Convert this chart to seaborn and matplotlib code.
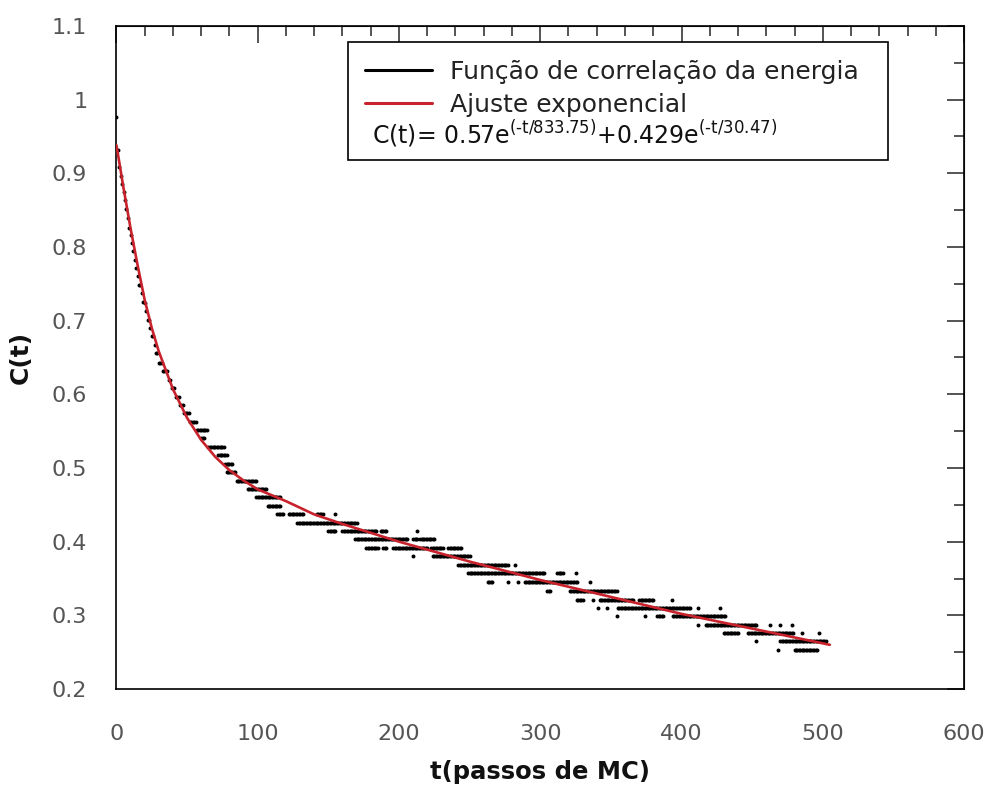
import numpy as np
import pandas as pd
import matplotlib
matplotlib.use("Agg")
import matplotlib.pyplot as plt
import seaborn as sns
from matplotlib.lines import Line2D
from matplotlib.patches import Rectangle
from matplotlib.ticker import MultipleLocator, FormatStrFormatter

# --- early decay: one point per MC step ---
early_t = [0, 1, 2, 3, 4, 5, 6, 7, 8, 9, 10, 11, 12, 13, 14,
           15, 16, 17, 18, 19, 20, 21, 22, 23, 24, 25, 26, 27, 28, 29]
early_c = [0.977, 0.932, 0.909, 0.897, 0.886, 0.875, 0.864, 0.852, 0.839, 0.826,
           0.816, 0.805, 0.794, 0.782, 0.771, 0.760, 0.749, 0.749, 0.737, 0.726,
           0.724, 0.713, 0.701, 0.701, 0.690, 0.679, 0.679, 0.667, 0.656, 0.656]

# --- later part: quantized levels, read as runs (first step, last step, value) ---
run_t0 = [30, 33, 37, 39, 42, 45, 48, 52, 57, 60, 65, 72, 77, 78, 85, 93, 99, 107,
          114, 122, 142, 155, 128, 150, 160, 187, 213, 169, 210, 215,
          177, 189, 196, 223, 235, 210, 224, 242, 282, 249, 312, 325,
          263, 277, 284, 289, 335, 305, 321, 326, 337, 342, 370, 393,
          341, 347, 355, 412, 427, 354, 374, 383, 394,
          412, 417, 463, 470, 478, 430, 447, 485, 497, 453, 470, 468, 480]
run_t1 = [32, 36, 38, 41, 44, 47, 51, 56, 64, 62, 76, 78, 82, 84, 99, 106, 116, 116,
          118, 132, 146, 155, 170, 155, 184, 191, 213, 206, 213, 225,
          185, 191, 220, 231, 244, 210, 250, 277, 282, 303, 316, 325,
          266, 277, 284, 326, 335, 307, 354, 330, 337, 366, 380, 393,
          341, 347, 406, 412, 427, 354, 374, 387, 431,
          412, 453, 463, 470, 478, 440, 479, 485, 497, 453, 502, 468, 496]
run_c = [0.643, 0.632, 0.620, 0.609, 0.597, 0.586, 0.575, 0.563, 0.552, 0.541,
         0.529, 0.517, 0.505, 0.494, 0.482, 0.471, 0.460, 0.448,
         0.437, 0.437, 0.437, 0.437, 0.425, 0.414, 0.414, 0.414, 0.414,
         0.403, 0.403, 0.403,
         0.391, 0.391, 0.391, 0.391, 0.391, 0.380, 0.380, 0.369, 0.369,
         0.357, 0.357, 0.357,
         0.345, 0.345, 0.345, 0.345, 0.345, 0.333, 0.333,
         0.321, 0.321, 0.321, 0.321, 0.321,
         0.310, 0.310, 0.310, 0.310, 0.310, 0.299, 0.299, 0.299, 0.299,
         0.287, 0.287, 0.287, 0.287, 0.287, 0.276, 0.276, 0.276, 0.276,
         0.265, 0.265, 0.253, 0.253]

# --- fitted curve ---
fit_t = [0, 2, 5, 10, 15, 20, 25, 30, 40, 50, 60, 70, 80, 90, 100,
         120, 140, 160, 180, 200, 250, 300, 350, 400, 450, 505]
fit_c = [0.938, 0.915, 0.880, 0.825, 0.775, 0.728, 0.690, 0.658, 0.607, 0.568,
         0.538, 0.515, 0.497, 0.483, 0.471, 0.455, 0.437, 0.424, 0.412, 0.400,
         0.373, 0.348, 0.325, 0.302, 0.282, 0.260]

ts = list(early_t)
cs = list(early_c)
for a, b, c in zip(run_t0, run_t1, run_c):
    for t in range(a, b + 1):
        ts.append(t)
        cs.append(c)
points = pd.DataFrame({"t": ts, "C": cs})
fit = pd.DataFrame({"t": fit_t, "C": fit_c})

sns.set_style("white")
plt.rcParams["font.family"] = ["DejaVu Sans"]

fig = plt.figure(figsize=(9.92, 7.87), dpi=100)
ax = fig.add_axes([0.1174, 0.1245, 0.8544, 0.8425])

sns.scatterplot(data=points, x="t", y="C", ax=ax, color="black", marker="o",
                s=8, linewidth=0, zorder=2)
sns.lineplot(data=fit, x="t", y="C", ax=ax, color="#c8232c", linewidth=1.9,
             sort=False, estimator=None, zorder=3)

ax.set_xlim(0, 600)
ax.set_ylim(0.2, 1.1)
ax.xaxis.set_major_locator(MultipleLocator(100))
ax.xaxis.set_minor_locator(MultipleLocator(20))
ax.yaxis.set_major_locator(MultipleLocator(0.1))
ax.yaxis.set_minor_locator(MultipleLocator(0.05))
ax.yaxis.set_major_formatter(FormatStrFormatter("%g"))

for sp in ax.spines.values():
    sp.set_color("black")
    sp.set_linewidth(1.2)

ax.tick_params(which="both", direction="out", top=False, right=False,
               colors="black", labelcolor="#555555", width=1.1)
ax.tick_params(which="major", length=12, labelsize=16)
ax.tick_params(axis="y", which="major", pad=9)
ax.tick_params(axis="x", which="major", pad=13)
ax.tick_params(which="minor", length=7)

# inward ticks on top and right
sx = ax.secondary_xaxis("top")
sx.xaxis.set_major_locator(MultipleLocator(100))
sx.xaxis.set_minor_locator(MultipleLocator(20))
sx.tick_params(which="both", direction="in", labeltop=False, width=1.1)
sx.tick_params(which="major", length=12)
sx.tick_params(which="minor", length=7)
sy = ax.secondary_yaxis("right")
sy.yaxis.set_major_locator(MultipleLocator(0.1))
sy.yaxis.set_minor_locator(MultipleLocator(0.05))
sy.tick_params(which="both", direction="in", labelright=False, width=1.1)
sy.tick_params(which="major", length=12)
sy.tick_params(which="minor", length=7)

ax.set_xlabel("t(passos de MC)", fontsize=17.5, fontweight="bold", color="#111111",
              labelpad=12)
ax.set_ylabel("C(t)", fontsize=18, fontweight="bold", color="#111111", labelpad=14)

# legend box with formula line
ax.add_patch(Rectangle((0.2732, 0.7979), 0.6372, 0.178, transform=ax.transAxes,
                       fill=True, facecolor="white", edgecolor="black",
                       linewidth=1.2, zorder=4))
handles = [Line2D([], [], color="black", linewidth=2.2),
           Line2D([], [], color="#c8232c", linewidth=2.2)]
leg = ax.legend(handles, ["Função de correlação da energia", "Ajuste exponencial"],
                loc="upper left", bbox_to_anchor=(0.2932, 0.949), frameon=False,
                fontsize=18, borderpad=0, borderaxespad=0, handlelength=2.68,
                handletextpad=0.72, labelspacing=0.36)
leg.set_zorder(5)
for txt in leg.get_texts():
    txt.set_color("#222222")
ax.text(0.3015, 0.837,
        "C(t)= 0.57e$^{\\mathrm{(\u2010t/833.75)}}$+0.429e$^{\\mathrm{(\u2010t/30.47)}}$",
        transform=ax.transAxes, fontsize=17, va="center", ha="left",
        color="#111111", zorder=6)

fig.savefig("out.png", dpi=100)
